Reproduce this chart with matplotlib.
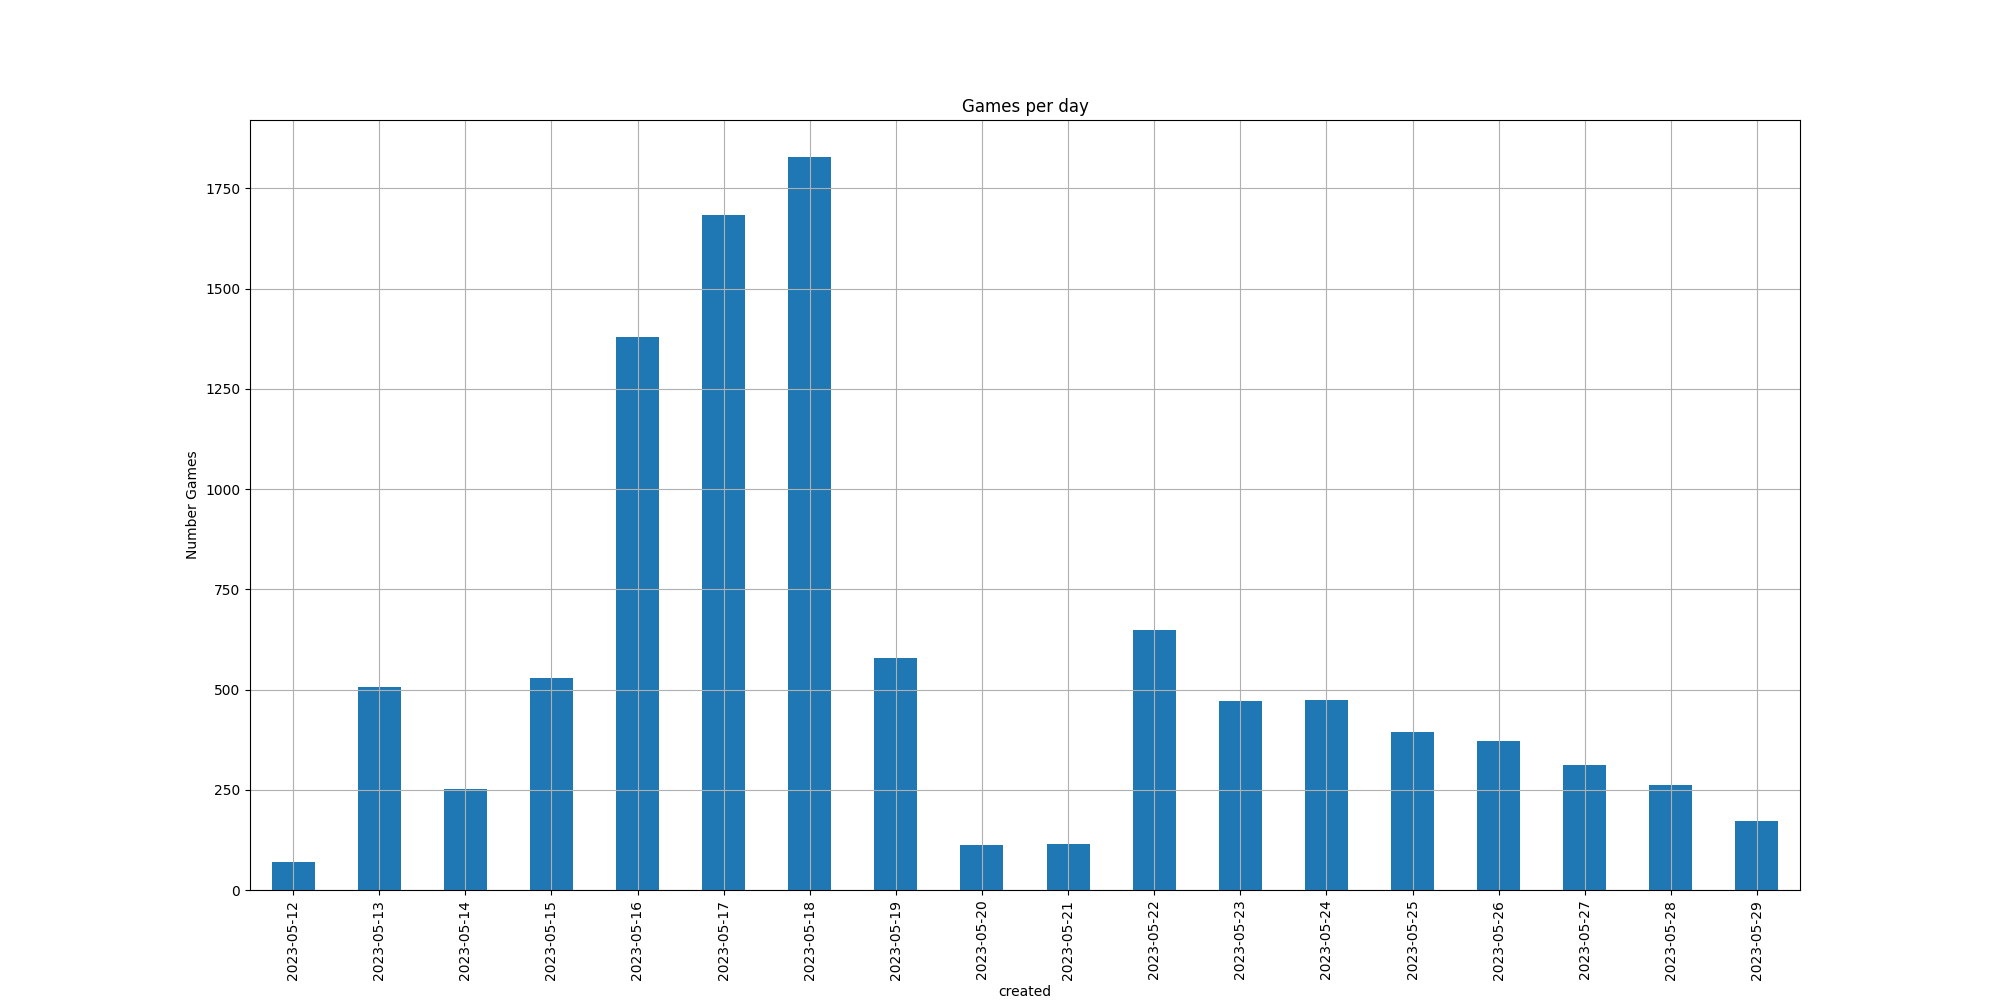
import pandas as pd
import matplotlib
matplotlib.use("Agg")
import matplotlib.pyplot as plt

dates = ["2023-05-12", "2023-05-13", "2023-05-14", "2023-05-15", "2023-05-16",
         "2023-05-17", "2023-05-18", "2023-05-19", "2023-05-20", "2023-05-21",
         "2023-05-22", "2023-05-23", "2023-05-24", "2023-05-25", "2023-05-26",
         "2023-05-27", "2023-05-28", "2023-05-29"]
games = [71, 506, 252, 529, 1380, 1683, 1829, 578, 112, 115,
         648, 471, 474, 394, 372, 312, 261, 172]

s = pd.Series(games, index=pd.Index(dates, name="created"))

fig, ax = plt.subplots(figsize=(20, 10), dpi=100)
s.plot(kind="bar", ax=ax, grid=True, title="Games per day")
ax.set_ylabel("Number Games")

fig.savefig("out.png")
